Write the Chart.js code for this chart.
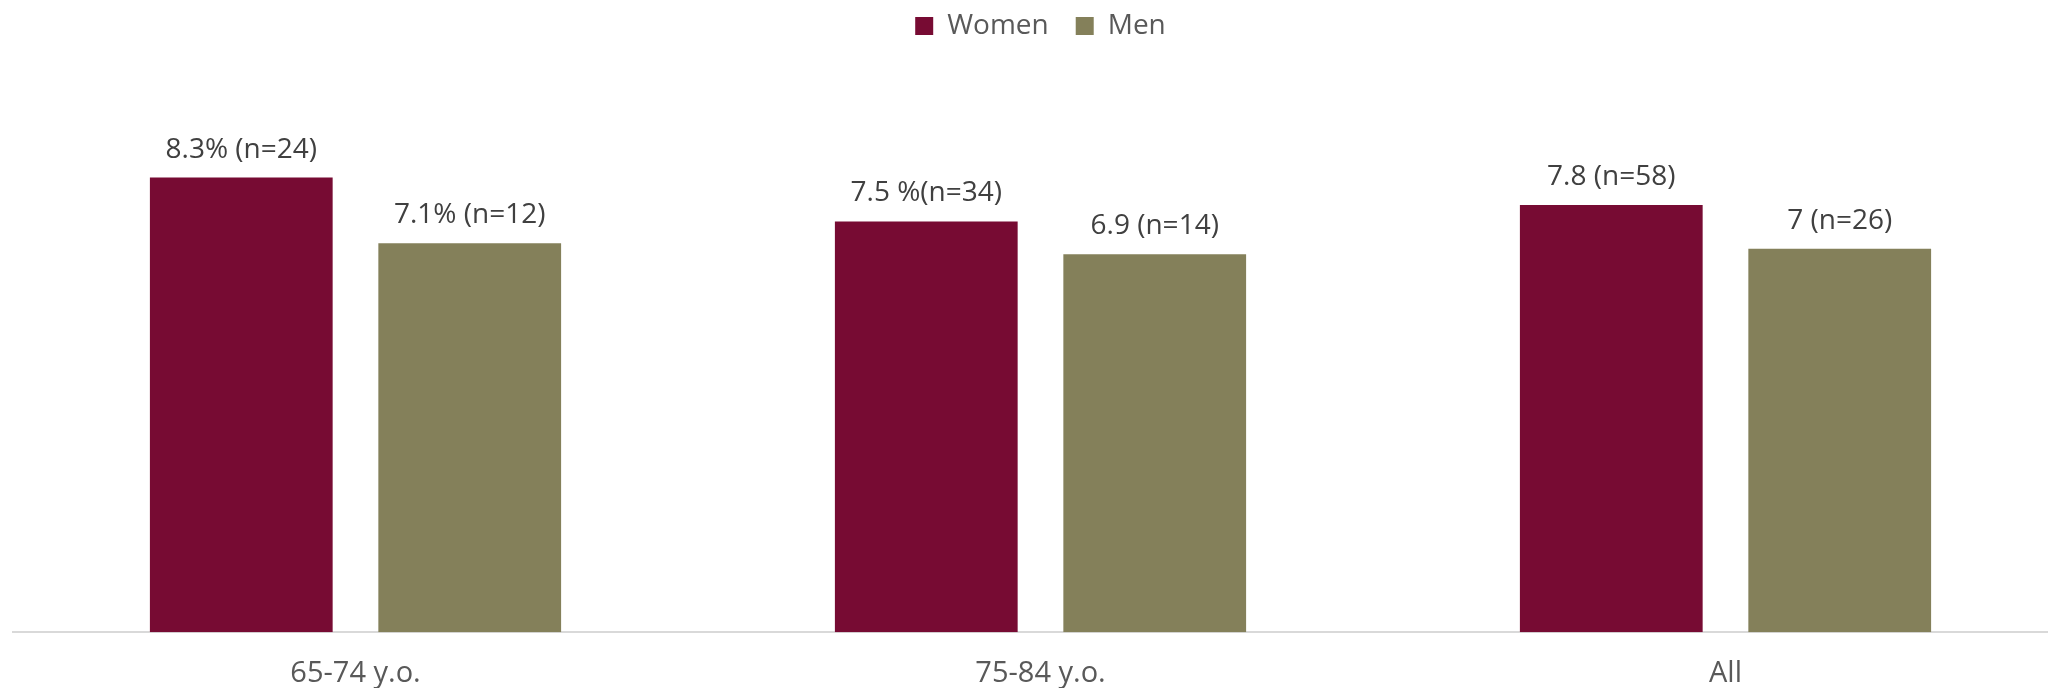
<!DOCTYPE html>
<html>
<head>
<meta charset="utf-8">
<script src="https://cdn.jsdelivr.net/npm/chart.js@4"></script>
<style>
  html, body { margin: 0; padding: 0; background: #fff; overflow: hidden; }
  #wrap { width: 2048px; height: 688px; overflow: hidden; }
  #ageChart { display: block; }
</style>
</head>
<body>
<div id="wrap"><canvas id="ageChart" width="2092" height="707"></canvas></div>
<script>
const categories = ['65-74 y.o.', '75-84 y.o.', 'All'];
const womenValues = [8.3, 7.5, 7.8];
const menValues = [7.1, 6.9, 7];
const womenLabels = ['8.3% (n=24)', '7.5 %(n=34)', '7.8 (n=58)'];
const menLabels = ['7.1% (n=12)', '6.9 (n=14)', '7 (n=26)'];

const FONT = '"Open Sans", "Noto Sans", sans-serif';

// Draw the text above each bar
const barLabels = {
    id: 'barLabels',
    afterDatasetsDraw(chart) {
        const ctx = chart.ctx;
        ctx.save();
        ctx.font = '28px ' + FONT;
        ctx.fillStyle = '#404040';
        ctx.textAlign = 'center';
        ctx.textBaseline = 'alphabetic';
        chart.data.datasets.forEach((ds, i) => {
            chart.getDatasetMeta(i).data.forEach((bar, j) => {
                ctx.fillText(ds.valueLabels[j], bar.x, bar.y - 20);
            });
        });
        ctx.restore();
    }
};

function initChart() {
    const ctx = document.getElementById('ageChart').getContext('2d');
    new Chart(ctx, {
        type: 'bar',
        data: {
            labels: categories,
            datasets: [{
                label: 'Women',
                data: womenValues,
                valueLabels: womenLabels,
                backgroundColor: '#770b33'
            }, {
                label: 'Men',
                data: menValues,
                valueLabels: menLabels,
                backgroundColor: '#84805a'
            }]
        },
        options: {
            responsive: false,
            animation: false,
            categoryPercentage: 0.667,
            barPercentage: 0.8,
            layout: {
                padding: { top: -15, left: 13, right: 24, bottom: 0 }
            },
            plugins: {
                tooltip: { enabled: false },
                legend: {
                    position: 'top',
                    labels: {
                        font: { family: FONT, size: 28 },
                        color: '#595959',
                        boxWidth: 18,
                        boxHeight: 18,
                        padding: 27
                    }
                }
            },
            scales: {
                x: {
                    grid: { display: false },
                    border: { display: true, color: '#d9d9d9', width: 2 },
                    ticks: {
                        font: { family: FONT, size: 29 },
                        color: '#595959',
                        padding: 16
                    }
                },
                y: {
                    display: false,
                    min: 0,
                    max: 10.63
                }
            }
        },
        plugins: [barLabels]
    });
}

document.addEventListener('DOMContentLoaded', initChart);
</script>
</body>
</html>
